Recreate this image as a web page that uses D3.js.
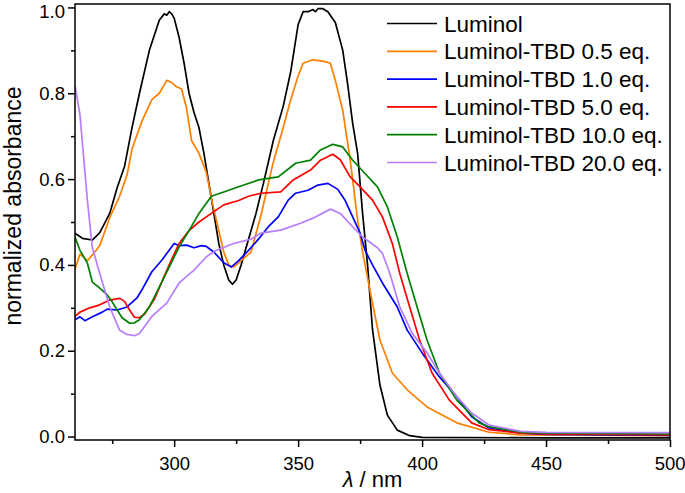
<!DOCTYPE html>
<html>
<head>
<meta charset="utf-8">
<script src="https://cdn.jsdelivr.net/npm/d3@7"></script>
<style>
  body { margin: 0; background: #fff; }
  svg { display: block; font-family: "Liberation Sans", Arial, sans-serif; }
</style>
</head>
<body>
<figure id="chart" style="margin:0"></figure>
<script>
// series labels and colours
const seriesNames = ["Luminol", "Luminol-TBD 0.5 eq.", "Luminol-TBD 1.0 eq.",
  "Luminol-TBD 5.0 eq.", "Luminol-TBD 10.0 eq.", "Luminol-TBD 20.0 eq."];
const seriesColors = ["#000000", "#ff8000", "#0000ff", "#ff0000", "#008000", "#b77dff"];

// [wavelength nm, normalized absorbance]
const luminol = [[260,0.474],[263,0.462],[267,0.458],[270,0.475],[274,0.52],[277,0.58],[280,0.63],
  [283,0.72],[286,0.80],[290,0.90],[292,0.935],[294,0.97],[296,0.985],[297,0.982],[298,0.99],[299,0.985],
  [300,0.975],[302,0.93],[304,0.87],[306,0.80],[308,0.755],[310,0.72],[312,0.66],[314,0.59],[316,0.52],
  [318,0.45],[320,0.40],[322,0.365],[323.5,0.355],[325,0.365],[327,0.40],[330,0.46],[333,0.52],[336,0.59],
  [340,0.69],[344,0.77],[347,0.85],[350,0.96],[352,0.99],[354,0.99],[356,0.995],[357,0.99],[358,0.997],
  [360,0.997],[362,0.99],[365,0.965],[368,0.90],[370,0.82],[372,0.73],[374,0.66],[376,0.52],[378,0.40],
  [380,0.25],[383,0.12],[386,0.05],[390,0.015],[395,0.002],[400,-0.002],[450,-0.003],[500,-0.003]];
const tbd05 = [[260,0.39],[262,0.425],[265,0.41],[268,0.43],[270,0.445],[274,0.51],[278,0.56],[281,0.61],
  [283,0.67],[287,0.735],[291,0.785],[294,0.80],[297,0.83],[299,0.825],[301,0.815],[303,0.81],[305,0.765],
  [307,0.69],[310,0.66],[313,0.615],[315,0.555],[318,0.48],[320,0.43],[322,0.40],[324,0.395],[327,0.41],
  [331,0.43],[335,0.515],[340,0.64],[344,0.72],[347,0.785],[350,0.84],[352,0.87],[356,0.878],[360,0.875],
  [363,0.87],[365,0.83],[368,0.76],[371,0.645],[374,0.505],[376,0.43],[379,0.34],[383,0.225],[388,0.148],
  [394,0.109],[402,0.069],[414,0.032],[427,0.01],[440,0.004],[500,0.002]];
const tbd10 = [[260,0.272],[262,0.279],[264,0.27],[267,0.279],[271,0.29],[273,0.297],[277,0.295],
  [281,0.302],[285,0.323],[287,0.342],[291,0.384],[295,0.411],[300,0.45],[302,0.445],[305,0.446],
  [308,0.44],[311,0.445],[313,0.443],[316,0.43],[320,0.405],[323,0.395],[326,0.41],[330,0.434],[334,0.46],
  [338,0.489],[342,0.512],[346,0.551],[349,0.567],[354,0.574],[358,0.586],[362,0.59],[366,0.576],
  [369,0.55],[372,0.512],[375,0.474],[377,0.434],[380,0.40],[384,0.358],[390,0.302],[394,0.248],
  [400,0.195],[407,0.139],[414,0.093],[420,0.046],[427,0.02],[440,0.008],[450,0.005],[500,0.003]];
const tbd50 = [[260,0.28],[262,0.29],[266,0.30],[270,0.307],[274,0.318],[278,0.322],[280,0.315],
  [282,0.295],[284,0.278],[286,0.277],[288,0.285],[292,0.32],[295,0.36],[298,0.40],[302,0.45],[306,0.48],
  [310,0.50],[315,0.52],[320,0.54],[326,0.55],[330,0.56],[335,0.567],[343,0.57],[348,0.598],[355,0.621],
  [359,0.644],[364,0.658],[367,0.645],[371,0.605],[375,0.582],[380,0.551],[384,0.512],[388,0.45],
  [391,0.38],[395,0.302],[399,0.225],[404,0.148],[411,0.085],[420,0.032],[427,0.016],[440,0.008],
  [450,0.006],[500,0.004]];
const tbd100 = [[260,0.465],[262,0.434],[265,0.404],[267,0.36],[270,0.346],[273,0.33],[275,0.314],
  [277,0.295],[279,0.277],[282,0.264],[284,0.265],[286,0.272],[290,0.302],[294,0.348],[298,0.395],
  [302,0.442],[306,0.48],[310,0.52],[315,0.56],[320,0.57],[326,0.582],[334,0.598],[342,0.605],[349,0.637],
  [355,0.644],[359,0.668],[364,0.681],[368,0.675],[372,0.644],[377,0.613],[382,0.582],[386,0.535],
  [390,0.465],[394,0.38],[398,0.302],[402,0.225],[407,0.148],[414,0.085],[423,0.032],[427,0.023],
  [440,0.01],[450,0.008],[500,0.006]];
const tbd200 = [[260,0.818],[262,0.75],[265,0.55],[267,0.44],[270,0.38],[274,0.302],[278,0.248],
  [281,0.238],[284,0.235],[286,0.24],[291,0.28],[297,0.311],[302,0.358],[308,0.388],[313,0.419],
  [317,0.434],[324,0.45],[331,0.46],[335,0.474],[343,0.481],[351,0.497],[356,0.509],[363,0.53],[367,0.52],
  [372,0.489],[376,0.465],[382,0.44],[384,0.427],[387,0.38],[391,0.302],[396,0.241],[402,0.195],
  [407,0.148],[414,0.093],[420,0.055],[427,0.027],[440,0.012],[450,0.01],[500,0.009]];

const xTicks = [300, 350, 400, 450, 500];
const xMinor = [275, 325, 375, 425, 475];
const yTicks = [0.0, 0.2, 0.4, 0.6, 0.8, 1.0];
const yMinor = [0.1, 0.3, 0.5, 0.7, 0.9];

const allSeries = [luminol, tbd05, tbd10, tbd50, tbd100, tbd200];

const W = 685, H = 493;
const plotLeft = 75, plotRight = 670, plotTop = 4, plotBottom = 440;

const svg = d3.select("#chart").append("svg")
  .attr("width", W).attr("height", H);

const x = d3.scaleLinear().domain([260, 500]).range([plotLeft, plotRight]);
const y = d3.scaleLinear().domain([-0.008, 1.008]).range([plotBottom, plotTop]);

// curves
const line = d3.line()
  .x(d => x(d[0]))
  .y(d => y(d[1]));

svg.append("defs").append("clipPath").attr("id", "clip")
  .append("rect").attr("x", plotLeft).attr("y", plotTop)
  .attr("width", plotRight - plotLeft).attr("height", plotBottom - plotTop);

svg.append("g").attr("clip-path", "url(#clip)")
  .selectAll("path")
  .data(allSeries)
  .enter()
  .append("path")
  .attr("d", line)
  .attr("fill", "none")
  .attr("stroke", (d, i) => seriesColors[i])
  .attr("stroke-width", 1.7)
  .attr("stroke-linejoin", "round");

// frame
svg.append("rect")
  .attr("x", plotLeft).attr("y", plotTop)
  .attr("width", plotRight - plotLeft).attr("height", plotBottom - plotTop)
  .attr("fill", "none").attr("stroke", "#000").attr("stroke-width", 1.5);

// x axis
const xAxis = svg.append("g")
  .attr("transform", "translate(0," + plotBottom + ")")
  .call(d3.axisBottom(x).tickValues(xTicks).tickSize(7).tickPadding(10).tickFormat(d3.format("d")));
xAxis.append("g")
  .call(d3.axisBottom(x).tickValues(xMinor).tickSize(4).tickFormat(""));

// y axis
const yAxis = svg.append("g")
  .attr("transform", "translate(" + plotLeft + ",0)")
  .call(d3.axisLeft(y).tickValues(yTicks).tickSize(7).tickPadding(3).tickFormat(d3.format(".1f")));
yAxis.append("g")
  .call(d3.axisLeft(y).tickValues(yMinor).tickSize(4).tickFormat(""));

svg.selectAll(".domain").remove();
svg.selectAll(".tick line").attr("stroke", "#000").attr("stroke-width", 1.5);
svg.selectAll(".tick text").attr("fill", "#000").style("font-size", "18.5px")
  .style("font-family", "'Liberation Sans', Arial, sans-serif");
// keep edge labels inside the picture
yAxis.selectAll(".tick text").filter(d => d === 1.0).attr("dy", "0.52em");
xAxis.selectAll(".tick text").filter(d => d === 500).attr("text-anchor", "end").attr("x", 15);

// axis titles
svg.append("text")
  .attr("transform", "translate(21," + 206 + ") rotate(-90)")
  .attr("text-anchor", "middle")
  .style("font-size", "23px")
  .text("normalized absorbance");

const xt = svg.append("text")
  .attr("x", (plotLeft + plotRight) / 2).attr("y", 487)
  .attr("text-anchor", "middle")
  .style("font-size", "22px");
xt.append("tspan").style("font-style", "italic").text("λ");
xt.append("tspan").text(" / nm");

// legend
const legend = svg.append("g");
seriesNames.forEach((name, i) => {
  const ly = 23.5 + i * 27.8;
  legend.append("line")
    .attr("x1", 387).attr("x2", 437).attr("y1", ly).attr("y2", ly)
    .attr("stroke", seriesColors[i]).attr("stroke-width", 1.7);
  legend.append("text")
    .attr("x", 444).attr("y", ly).attr("dy", "0.36em")
    .style("font-size", "22.5px")
    .text(name);
});
</script>
</body>
</html>
